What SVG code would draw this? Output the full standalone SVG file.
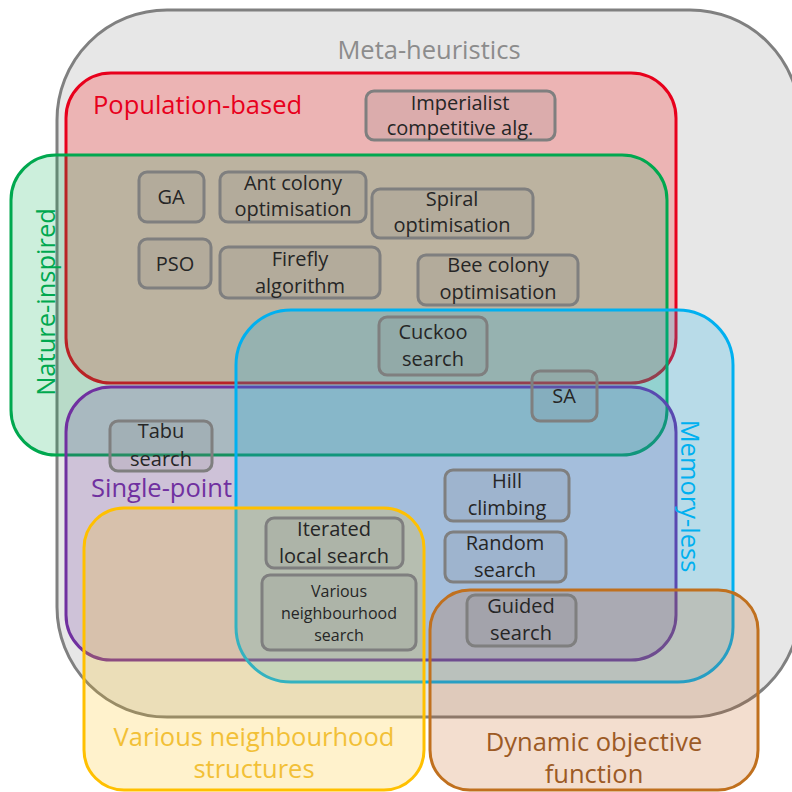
<svg xmlns="http://www.w3.org/2000/svg" width="792" height="792" viewBox="0 0 792 792">
<style>
.set{stroke-width:3}
.lbl{font-family:"Open Sans","Liberation Sans",sans-serif;font-size:25.5px}
.node rect{fill:#808080;fill-opacity:0.15;stroke:#7f7f7f;stroke-width:3}
.node text{font-family:"Open Sans","Liberation Sans",sans-serif;font-size:20px;fill:#262626;text-anchor:middle}
</style>
<rect width="792" height="792" fill="#ffffff"/>
<g id="sets">
<g id="meta"><rect class="set" x="57" y="10" width="743" height="707" rx="110" fill="#e7e7e7" stroke="#808080"/>
<text class="lbl" x="429" y="59" text-anchor="middle" fill="#8c8c8c">Meta-heuristics</text></g>
<g id="population"><rect class="set" x="66" y="73" width="610" height="310" rx="45" fill="#ff0000" fill-opacity="0.22" stroke="#e8001c"/>
<text class="lbl" x="93" y="114" fill="#e8001c">Population-based</text></g>
<g id="nature"><rect class="set" x="11" y="155" width="656" height="300" rx="45" fill="#00b050" fill-opacity="0.2" stroke="#00a84f"/>
<text class="lbl" transform="translate(55,302) rotate(-90)" text-anchor="middle" fill="#00a84f">Nature-inspired</text></g>
<g id="single"><rect class="set" x="66" y="387" width="610" height="273" rx="45" fill="#7030a0" fill-opacity="0.2" stroke="#7030a0"/>
<text class="lbl" x="91" y="497" fill="#7030a0">Single-point</text></g>
<g id="memoryless"><rect class="set" x="236" y="310" width="497" height="372" rx="55" fill="#00b0f0" fill-opacity="0.2" stroke="#00b0f0"/>
<text class="lbl" transform="translate(681,496) rotate(90)" text-anchor="middle" fill="#00b0f0">Memory-less</text></g>
<g id="neighbourhood"><rect class="set" x="84" y="508" width="340" height="282" rx="40" fill="#ffc000" fill-opacity="0.2" stroke="#ffc000"/>
<text class="lbl" x="254" y="746" text-anchor="middle" fill="#f2c037">Various neighbourhood</text>
<text class="lbl" x="254" y="778" text-anchor="middle" fill="#f2c037">structures</text></g>
<g id="dynamic"><rect class="set" x="430" y="590" width="328" height="200" rx="40" fill="#c55a11" fill-opacity="0.2" stroke="#c0701e"/>
<text class="lbl" x="594" y="751" text-anchor="middle" fill="#9c5a25">Dynamic objective</text>
<text class="lbl" x="594" y="783" text-anchor="middle" fill="#9c5a25">function</text></g>
</g>
<g id="imperialist" class="node"><rect x="366" y="91" width="189" height="49" rx="8"/><text x="460" y="110">Imperialist</text><text x="460" y="135">competitive alg.</text></g>
<g id="ga" class="node"><rect x="139" y="172" width="65" height="50" rx="8"/><text x="171" y="204">GA</text></g>
<g id="ant" class="node"><rect x="220" y="172" width="146" height="50" rx="8"/><text x="293" y="190">Ant colony</text><text x="293" y="216">optimisation</text></g>
<g id="spiral" class="node"><rect x="372" y="189" width="161" height="49" rx="8"/><text x="452" y="206">Spiral</text><text x="452" y="232">optimisation</text></g>
<g id="pso" class="node"><rect x="139" y="239" width="72" height="49" rx="8"/><text x="175" y="271">PSO</text></g>
<g id="firefly" class="node"><rect x="220" y="247" width="160" height="51" rx="8"/><text x="300" y="266">Firefly</text><text x="300" y="293">algorithm</text></g>
<g id="bee" class="node"><rect x="418" y="255" width="160" height="50" rx="8"/><text x="498" y="272">Bee colony</text><text x="498" y="299">optimisation</text></g>
<g id="cuckoo" class="node"><rect x="379" y="317" width="108" height="58" rx="8"/><text x="433" y="339">Cuckoo</text><text x="433" y="366">search</text></g>
<g id="sa" class="node"><rect x="532" y="371" width="65" height="50" rx="8"/><text x="564" y="403">SA</text></g>
<g id="tabu" class="node"><rect x="110" y="421" width="102" height="50" rx="8"/><text x="161" y="438">Tabu</text><text x="161" y="466">search</text></g>
<g id="hill" class="node"><rect x="445" y="470" width="124" height="51" rx="8"/><text x="507" y="488">Hill</text><text x="507" y="515">climbing</text></g>
<g id="iterated" class="node"><rect x="266" y="518" width="137" height="50" rx="8"/><text x="334" y="536">Iterated</text><text x="334" y="563">local search</text></g>
<g id="random" class="node"><rect x="445" y="532" width="121" height="50" rx="8"/><text x="505" y="550">Random</text><text x="505" y="577">search</text></g>
<g id="vns" class="node"><rect x="262" y="575" width="154" height="75" rx="8"/><text x="339" y="597" style="font-size:16px">Various</text><text x="339" y="619" style="font-size:16px">neighbourhood</text><text x="339" y="641" style="font-size:16px">search</text></g>
<g id="guided" class="node"><rect x="467" y="595" width="109" height="51" rx="8"/><text x="521" y="613">Guided</text><text x="521" y="640">search</text></g>
<g id="connectors"></g>
</svg>
